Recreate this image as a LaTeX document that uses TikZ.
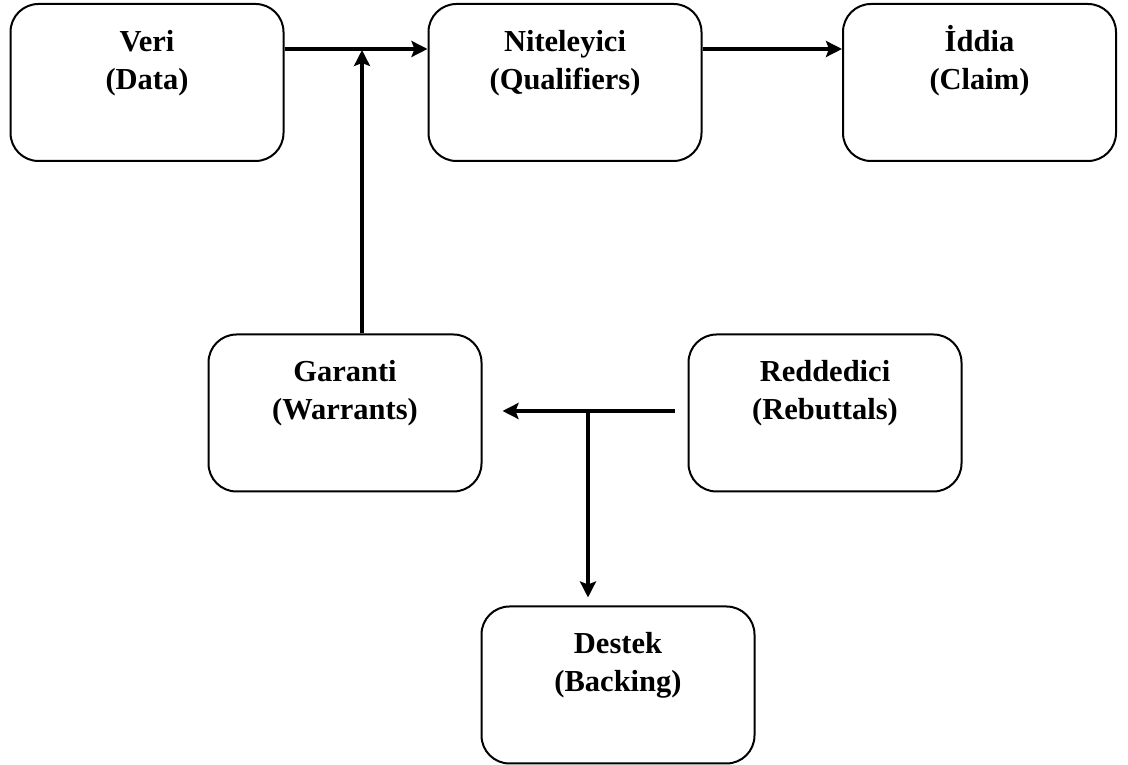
\documentclass[tikz,border=0pt]{standalone}
\usepackage{fontspec}
\setmainfont{Liberation Serif}
\usetikzlibrary{arrows.meta}
\begin{document}
\begin{tikzpicture}[x=1pt,y=1pt,
  box/.style={draw, line width=2pt, rounded corners=28pt, minimum width=273pt, minimum height=157pt, inner sep=0pt},
  lbl/.style={anchor=north, inner sep=0pt, align=center, font=\fontsize{30.5}{38}\selectfont\bfseries},
  arr/.style={line width=3.5pt, -{Stealth[length=16pt,width=16pt,inset=3pt]}}]
\path[use as bounding box] (0,0) rectangle (1128,765);
\node[box] (veri) at (147,682.5) {};
\node[lbl] (veriT) at ([yshift=-18pt]veri.north) {\rule{0pt}{30pt}Veri\\(Data)};
\node[box] (nit) at (565,682.5) {};
\node[lbl] (nitT) at ([yshift=-18pt]nit.north) {\rule{0pt}{30pt}Niteleyici\\(Qualifiers)};
\node[box] (iddia) at (979.5,682.5) {};
\node[lbl] (iddiaT) at ([yshift=-18pt]iddia.north) {\rule{0pt}{30pt}İddia\\(Claim)};
\node[box] (garanti) at (345,352) {};
\node[lbl] (garantiT) at ([yshift=-18pt]garanti.north) {\rule{0pt}{30pt}Garanti\\(Warrants)};
\node[box] (red) at (825,352) {};
\node[lbl] (redT) at ([yshift=-18pt]red.north) {\rule{0pt}{30pt}Reddedici\\(Rebuttals)};
\node[box] (destek) at (618,80) {};
\node[lbl] (destekT) at ([yshift=-18pt]destek.north) {\rule{0pt}{30pt}Destek\\(Backing)};
\coordinate (j1) at (362,716);
\coordinate (j2) at (588,354);
\draw[arr] (veri.east |- j1) -- (nit.west |- j1);
\draw[arr] (nit.east |- j1) -- (iddia.west |- j1);
\draw[arr] (garanti.north -| j1) -- ([yshift=-1pt]j1);
\draw[arr, shorten <=13pt, shorten >=20pt] (red.west |- j2) -- (garanti.east |- j2);
\draw[arr, shorten >=8pt] (j2) -- (j2 |- destek.north);
\end{tikzpicture}
\end{document}
